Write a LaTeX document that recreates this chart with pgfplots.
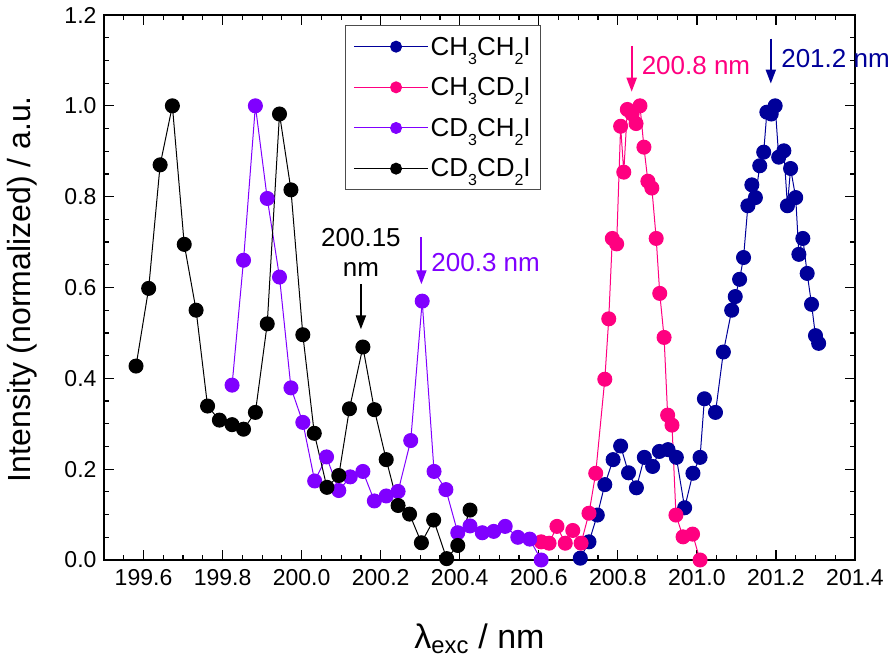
\documentclass[border=0pt]{standalone}
\usepackage{fontspec}
\setmainfont{Liberation Sans}
\usepackage{pgfplots}
\usepackage{pgfplotstable}
\pgfplotsset{compat=1.18}
\usetikzlibrary{arrows.meta}

\definecolor{cblue}{RGB}{0,0,153}
\definecolor{cpink}{RGB}{255,0,128}
\definecolor{cpurple}{RGB}{128,0,255}

% CH3CH2I
\pgfplotstableread{
x y
200.705 0.004
200.727 0.040
200.748 0.099
200.767 0.166
200.788 0.221
200.807 0.251
200.827 0.192
200.847 0.159
200.867 0.226
200.888 0.206
200.905 0.239
200.927 0.243
200.948 0.226
200.969 0.115
200.990 0.191
201.008 0.226
201.019 0.355
201.047 0.325
201.067 0.458
201.088 0.550
201.097 0.580
201.108 0.618
201.118 0.666
201.129 0.780
201.139 0.826
201.148 0.798
201.159 0.868
201.169 0.898
201.177 0.986
201.188 0.982
201.198 1.000
201.207 0.887
201.220 0.901
201.229 0.780
201.237 0.862
201.250 0.798
201.258 0.673
201.268 0.708
201.279 0.631
201.290 0.563
201.300 0.494
201.308 0.477
}\hhtab

% CH3CD2I
\pgfplotstableread{
x y
200.606 0.040
200.626 0.037
200.646 0.074
200.667 0.037
200.686 0.065
200.707 0.037
200.727 0.103
200.744 0.191
200.767 0.398
200.777 0.531
200.786 0.708
200.797 0.696
200.807 0.955
200.815 0.854
200.824 0.992
200.836 0.982
200.846 0.961
200.856 1.000
200.866 0.909
200.876 0.834
200.886 0.819
200.897 0.708
200.906 0.587
200.917 0.490
200.926 0.319
200.937 0.297
200.947 0.099
200.965 0.051
200.989 0.057
201.008 0.000
}\hdtab

% CD3CH2I
\pgfplotstableread{
x y
199.824 0.385
199.853 0.660
199.883 1.000
199.913 0.796
199.944 0.623
199.973 0.379
200.003 0.303
200.033 0.174
200.063 0.227
200.094 0.153
200.123 0.183
200.155 0.195
200.184 0.130
200.214 0.141
200.244 0.151
200.276 0.263
200.305 0.570
200.335 0.195
200.365 0.155
200.395 0.060
200.426 0.075
200.457 0.060
200.486 0.063
200.515 0.074
200.547 0.050
200.577 0.046
200.606 0.000
}\dhtab

% CD3CD2I
\pgfplotstableread{
x y
199.581 0.427
199.613 0.598
199.642 0.870
199.673 1.000
199.703 0.695
199.733 0.550
199.762 0.339
199.792 0.308
199.824 0.298
199.853 0.288
199.883 0.325
199.913 0.520
199.944 0.982
199.973 0.815
200.003 0.496
200.032 0.279
200.064 0.160
200.094 0.186
200.121 0.333
200.155 0.469
200.184 0.331
200.214 0.221
200.244 0.120
200.273 0.101
200.303 0.038
200.334 0.088
200.367 0.003
200.395 0.032
200.426 0.110
}\ddtab

\newcommand{\annfont}{\fontsize{26}{30}\selectfont}
% Origin-style subscript: small and well below the baseline
\newcommand{\sub}[1]{\raisebox{-9pt}{\fontsize{16}{16}\selectfont #1}}

\begin{document}
\begin{tikzpicture}
\useasboundingbox (-104pt,-101pt) rectangle (786pt,560pt);
\begin{axis}[
    scale only axis,
    width=751pt, height=545pt,
    xmin=199.5, xmax=201.4,
    ymin=0, ymax=1.2,
    xtick={199.6,199.8,200.0,200.2,200.4,200.6,200.8,201.0,201.2,201.4},
    minor xtick={199.55,199.65,199.7,199.75,199.85,199.9,199.95,200.05,200.1,200.15,200.25,200.3,200.35,200.45,200.5,200.55,200.65,200.7,200.75,200.85,200.9,200.95,201.05,201.1,201.15,201.25,201.3,201.35},
    ytick={0,0.2,0.4,0.6,0.8,1.0,1.2},
    minor y tick num=3,
    major tick length=10pt,
    minor tick length=5pt,
    every tick/.style={black, line width=1.2pt},
    axis line style={line width=1.5pt},
    tick label style={font=\fontsize{23}{27}\selectfont},
    xticklabel style={yshift=-6pt, /pgf/number format/.cd, fixed, fixed zerofill, precision=1, 1000 sep={}, assume math mode=true},
    yticklabel style={xshift=-4pt, /pgf/number format/.cd, fixed, fixed zerofill, precision=1, assume math mode=true},
    xlabel={λ\textsubscript{exc} / nm},
    ylabel={Intensity (normalized) / a.u.},
    every axis x label/.style={at={(rel axis cs:0.5,-0.163)}, anchor=base, font=\fontsize{34}{40}\selectfont},
    every axis y label/.style={at={(rel axis cs:-0.109,0.497)}, rotate=90, anchor=center, font=\fontsize{32}{38}\selectfont},
    clip=false,
    legend cell align=left,
    legend style={at={(rel axis cs:0.321,0.981)}, anchor=north west,
        draw=black!70, line width=1pt,
        font=\fontsize{26}{30}\selectfont,
        inner xsep=8pt, inner ysep=9pt, row sep=17pt},
    legend image code/.code={
        \path (0pt,0pt) -- (74pt,0pt);
        \draw[mark repeat=2, mark phase=2, mark size=5.5pt, #1]
            plot coordinates {(12pt,0pt) (42pt,0pt) (72pt,0pt)};},
]
\addplot[cblue, line width=1pt, mark=*, mark size=7pt] table[x=x, y=y] {\hhtab};
\addlegendentry{CH\sub{3}CH\sub{2}I}
\addplot[cpink, line width=1pt, mark=*, mark size=7pt] table[x=x, y=y] {\hdtab};
\addlegendentry{CH\sub{3}CD\sub{2}I}
\addplot[cpurple, line width=1pt, mark=*, mark size=7pt] table[x=x, y=y] {\dhtab};
\addlegendentry{CD\sub{3}CH\sub{2}I}
\addplot[black, line width=1pt, mark=*, mark size=7pt] table[x=x, y=y] {\ddtab};
\addlegendentry{CD\sub{3}CD\sub{2}I}

% peak markers
\draw[-{Triangle[length=14pt,width=10pt]}, line width=2pt, black]
    (axis cs:200.15,0.607) -- (axis cs:200.15,0.508);
\node[align=center, font=\annfont, inner sep=0pt] at (axis cs:200.15,0.678) {200.15\\nm};

\draw[-{Triangle[length=14pt,width=10pt]}, line width=2pt, cpurple]
    (axis cs:200.303,0.711) -- (axis cs:200.303,0.607);
\node[anchor=west, font=\annfont, inner sep=0pt, text=cpurple] at (axis cs:200.328,0.656) {200.3 nm};

\draw[-{Triangle[length=14pt,width=10pt]}, line width=2pt, cpink]
    (axis cs:200.835,1.132) -- (axis cs:200.835,1.031);
\node[anchor=west, font=\annfont, inner sep=0pt, text=cpink] at (axis cs:200.860,1.089) {200.8 nm};

\draw[-{Triangle[length=14pt,width=10pt]}, line width=2pt, cblue]
    (axis cs:201.187,1.148) -- (axis cs:201.187,1.049);
\node[anchor=west, font=\annfont, inner sep=0pt, text=cblue] at (axis cs:201.213,1.104) {201.2 nm};
\end{axis}
\end{tikzpicture}
\end{document}
